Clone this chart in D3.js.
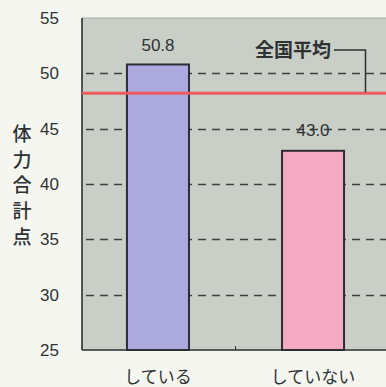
<!DOCTYPE html>
<html><head><meta charset="utf-8">
<script src="https://cdn.jsdelivr.net/npm/d3@7"></script>
<style>
html,body{margin:0;padding:0;background:#f6f6f1;}
svg{display:block;}
</style></head>
<body><svg id="c" width="386" height="387"></svg>
<script>
const categories = ["している", "していない"];
const values = [50.8, 43.0];
const valueLabels = ["50.8", "43.0"];
const barColors = ["#aba9dd", "#f5a9c3"];
const yTicks = [25, 30, 35, 40, 45, 50, 55];
const gridTicks = [30, 35, 40, 45, 50];
const nationalAverage = 48.2;
const averageLabel = "全国平均";
const yTitle = ["体", "力", "合", "計", "点"];

const svg = d3.select("#c");
const m = {left: 82, top: 18, right: 0, bottom: 37};
const W = 386, H = 387;
const plotW = W - m.left - m.right, plotH = H - m.top - m.bottom;

const y = d3.scaleLinear().domain([25, 55]).range([m.top + plotH, m.top]);
const x = d3.scaleBand().domain(categories).range([m.left, m.left + 307]).paddingInner(0.6).paddingOuter(0.29);

// plot background
svg.append("rect").attr("x", m.left).attr("y", m.top).attr("width", plotW).attr("height", plotH)
  .attr("fill", "#c9cec6");
svg.append("line").attr("x1", m.left).attr("x2", W).attr("y1", m.top).attr("y2", m.top)
  .attr("stroke", "#a4a8a2").attr("stroke-width", 1);

// gridlines
svg.append("g").selectAll("line").data(gridTicks).join("line")
  .attr("x1", m.left).attr("x2", W)
  .attr("y1", d => Math.round(y(d)) + 0.5).attr("y2", d => Math.round(y(d)) + 0.5)
  .attr("stroke", "#3d4040").attr("stroke-width", 1.3).attr("stroke-dasharray", "8,6")
  .attr("stroke-dashoffset", -4);

// bars
svg.append("g").selectAll("rect").data(values).join("rect")
  .attr("x", (d, i) => x(categories[i]))
  .attr("y", d => y(d))
  .attr("width", x.bandwidth())
  .attr("height", d => y(25) - y(d))
  .attr("fill", (d, i) => barColors[i])
  .attr("stroke", "#2f2d33").attr("stroke-width", 2);

// axes frame
svg.append("line").attr("x1", m.left).attr("x2", m.left).attr("y1", m.top).attr("y2", y(25))
  .attr("stroke", "#2d2f30").attr("stroke-width", 1.6);
svg.append("line").attr("x1", m.left).attr("x2", W).attr("y1", y(25)).attr("y2", y(25))
  .attr("stroke", "#2d2f30").attr("stroke-width", 1.6);
// small center tick
const midX = (x(categories[0]) + x.bandwidth() + x(categories[1])) / 2;
svg.append("line").attr("x1", midX).attr("x2", midX).attr("y1", y(25)).attr("y2", y(25) - 4)
  .attr("stroke", "#2d2f30").attr("stroke-width", 1);

// national average line
svg.append("line").attr("x1", m.left).attr("x2", W).attr("y1", y(nationalAverage)).attr("y2", y(nationalAverage))
  .attr("stroke", "#ee5b5e").attr("stroke-width", 3);

// leader line and label
const labY = 50;
svg.append("path")
  .attr("d", `M334,${labY}H365.5V${y(nationalAverage) - 1}`)
  .attr("fill", "none").attr("stroke", "#2d2f30").attr("stroke-width", 1.5);
svg.append("text").attr("x", 293).attr("y", labY).attr("dy", "0.36em")
  .attr("text-anchor", "middle").attr("font-family", "Noto Sans CJK JP").attr("font-weight", 700)
  .attr("font-size", 19).attr("fill", "#2f3233").text(averageLabel);

// value labels
svg.append("g").selectAll("text").data(values).join("text")
  .attr("x", (d, i) => x(categories[i]) + x.bandwidth() / 2)
  .attr("y", (d, i) => i === 0 ? 45 : 130)
  .attr("dy", "0.36em")
  .attr("text-anchor", "middle").attr("font-family", "Liberation Sans, Arial, sans-serif")
  .attr("font-size", 17).attr("fill", "#2f3233").text((d, i) => valueLabels[i]);

// y tick labels
svg.append("g").selectAll("text").data(yTicks).join("text")
  .attr("x", 59).attr("y", d => y(d)).attr("dy", "0.36em")
  .attr("text-anchor", "end").attr("font-family", "Liberation Sans, Arial, sans-serif")
  .attr("font-size", 17).attr("fill", "#2f3233").text(d => d);

// y title vertical
svg.append("g").selectAll("text").data(yTitle).join("text")
  .attr("x", 22).attr("y", (d, i) => 134 + i * 25.8).attr("dy", "0.36em")
  .attr("text-anchor", "middle").attr("font-family", "Noto Sans CJK JP").attr("font-weight", 500)
  .attr("font-size", 19).attr("fill", "#2f3233").text(d => d);

// x labels
svg.append("g").selectAll("text").data(categories).join("text")
  .attr("x", d => x(d) + x.bandwidth() / 2).attr("y", 377).attr("dy", "0.36em")
  .attr("text-anchor", "middle").attr("font-family", "Noto Sans CJK JP")
  .attr("font-size", 17).attr("fill", "#2f3233").text(d => d);
</script></body></html>
